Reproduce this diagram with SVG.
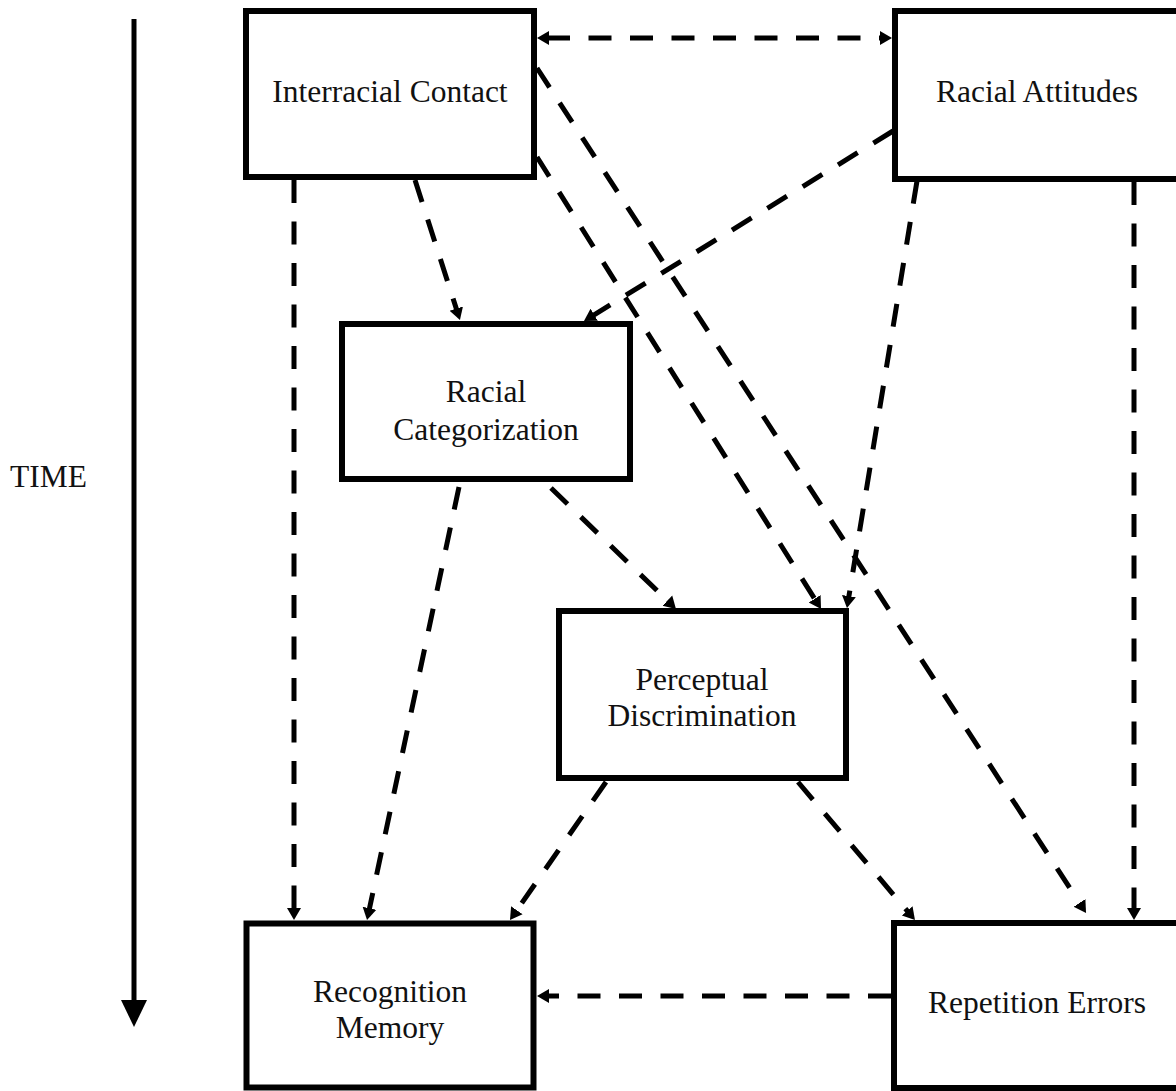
<svg xmlns="http://www.w3.org/2000/svg" width="1176" height="1091" viewBox="0 0 1176 1091">
<style>
.box{fill:#fff;stroke:#000;stroke-width:6}
.lbl{font-family:"Liberation Serif","Times New Roman",serif;font-size:31.5px;fill:#111;text-anchor:middle}
.con{fill:none;stroke:#000;stroke-width:5;stroke-dasharray:23 18.5}
</style>
<defs>
<marker id="ah" markerUnits="userSpaceOnUse" markerWidth="14" markerHeight="16" refX="2" refY="7.5" orient="auto-start-reverse">
<path d="M0,0.5 L12,7.5 L0,14.5 z" fill="#000"/>
</marker>
</defs>
<rect width="1176" height="1091" fill="#fff"/>
<g id="time">
<line x1="134" y1="19" x2="134" y2="1002" stroke="#000" stroke-width="5"/>
<polygon points="121,1000 147,1000 134,1027" fill="#000"/>
<text class="lbl" x="87" y="487" style="text-anchor:end">TIME</text>
</g>
<g id="connectors">
<line class="con" x1="547" y1="38" x2="882" y2="38" marker-start="url(#ah)" marker-end="url(#ah)"/>
<line class="con" x1="294" y1="180" x2="294" y2="910" marker-end="url(#ah)"/>
<line class="con" x1="415" y1="180" x2="456.9" y2="310.5" marker-end="url(#ah)"/>
<line class="con" x1="537" y1="68" x2="1080.6" y2="904.6" marker-end="url(#ah)"/>
<line class="con" x1="537" y1="157" x2="815.7" y2="600.5" marker-end="url(#ah)"/>
<line class="con" x1="893" y1="131" x2="592.5" y2="315.8" marker-end="url(#ah)"/>
<line class="con" x1="917" y1="181" x2="848.6" y2="598.1" marker-end="url(#ah)"/>
<line class="con" x1="1134" y1="182" x2="1134" y2="910" marker-end="url(#ah)"/>
<line class="con" x1="459" y1="487" x2="369.1" y2="910.2" marker-end="url(#ah)"/>
<line class="con" x1="551" y1="488" x2="668.8" y2="602" marker-end="url(#ah)"/>
<line class="con" x1="606" y1="782" x2="515.7" y2="911.8" marker-end="url(#ah)"/>
<line class="con" x1="798" y1="782" x2="908.5" y2="912.4" marker-end="url(#ah)"/>
<line class="con" x1="891" y1="996" x2="547" y2="996" marker-end="url(#ah)"/>
</g>
<g id="interracial-contact">
<rect class="box" x="246" y="11" width="288" height="166"/>
<text class="lbl" x="390" y="102">Interracial Contact</text>
</g>
<g id="racial-attitudes">
<rect class="box" x="895" y="11" width="284" height="168"/>
<text class="lbl" x="1037" y="102">Racial Attitudes</text>
</g>
<g id="racial-categorization">
<rect class="box" x="342" y="324" width="288" height="155"/>
<text class="lbl" x="486" y="402">Racial</text>
<text class="lbl" x="486" y="440">Categorization</text>
</g>
<g id="perceptual-discrimination">
<rect class="box" x="559" y="611" width="287" height="167"/>
<text class="lbl" x="702" y="690">Perceptual</text>
<text class="lbl" x="702" y="726">Discrimination</text>
</g>
<g id="recognition-memory">
<rect class="box" x="246.5" y="923.5" width="287" height="164"/>
<text class="lbl" x="390" y="1002">Recognition</text>
<text class="lbl" x="390" y="1038">Memory</text>
</g>
<g id="repetition-errors">
<rect class="box" x="894" y="923" width="285" height="165"/>
<text class="lbl" x="1037" y="1013">Repetition Errors</text>
</g>
</svg>
